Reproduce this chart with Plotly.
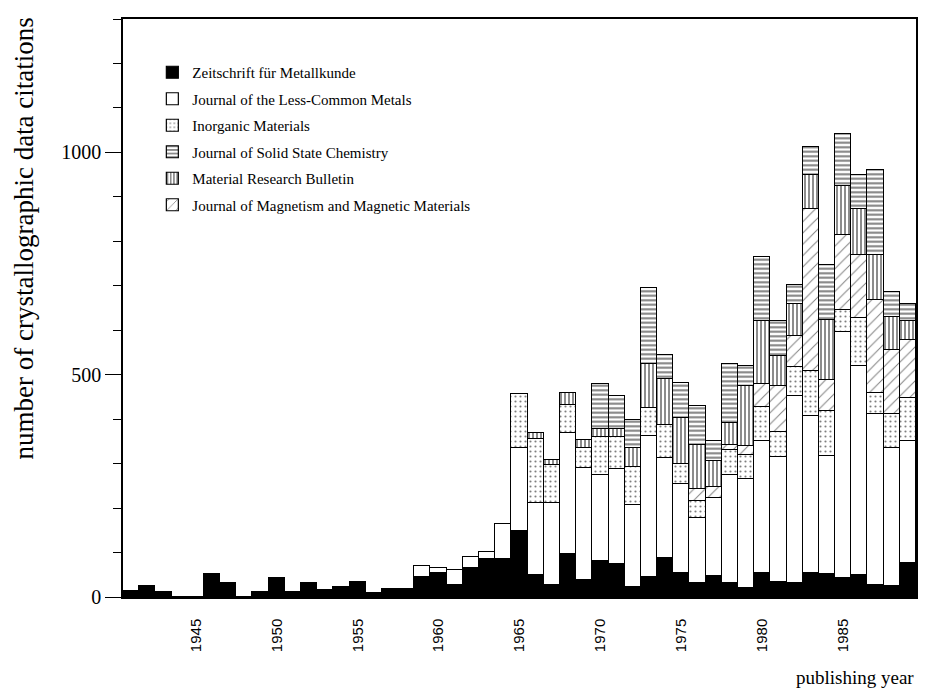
"""
Gestapelte Balken: Zitate kristallographischer Daten pro Jahr und Zeitschrift.
"""
import plotly.graph_objects as go

YEARS = list(range(1941, 1990))
TICK_YEARS = [1945, 1950, 1955, 1960, 1965, 1970, 1975, 1980, 1985]

# Zeitschrift für Metallkunde (schwarz)
ZFM = [13, 25, 11, 0, 0, 52, 32, 0, 12, 42,
       12, 32, 16, 23, 33, 9, 19, 19, 46, 53,
       26, 66, 86, 86, 148, 50, 28, 97, 39, 81,
       75, 23, 45, 87, 54, 31, 47, 32, 20, 54,
       34, 31, 54, 51, 42, 49, 27, 25, 77]
# Journal of the Less-Common Metals (weiss)
JLCM = [0, 0, 0, 0, 0, 0, 0, 0, 0, 0,
        0, 0, 0, 0, 0, 0, 0, 0, 24, 12,
        35, 25, 16, 78, 188, 162, 183, 272, 252, 193,
        212, 183, 317, 225, 200, 147, 176, 242, 245, 296,
        280, 421, 353, 267, 555, 470, 384, 311, 273]
# Inorganic Materials (punktiert)
IM = [0, 0, 0, 0, 0, 0, 0, 0, 0, 0,
      0, 0, 0, 0, 0, 0, 0, 0, 0, 0,
      0, 0, 0, 0, 121, 144, 86, 63, 45, 85,
      72, 87, 64, 75, 46, 38, 0, 56, 55, 77,
      58, 65, 101, 100, 49, 108, 48, 75, 98]
# Journal of Magnetism and Magnetic Materials (gewellt)
JMMM = [0, 0, 0, 0, 0, 0, 0, 0, 0, 0,
        0, 0, 0, 0, 0, 0, 0, 0, 0, 0,
        0, 0, 0, 0, 0, 0, 0, 0, 0, 0,
        0, 0, 0, 0, 0, 27, 24, 12, 20, 51,
        102, 69, 364, 69, 168, 142, 209, 145, 131]
# Material Research Bulletin (senkrecht schraffiert)
MRB = [0, 0, 0, 0, 0, 0, 0, 0, 0, 0,
       0, 0, 0, 0, 0, 0, 0, 0, 0, 0,
       0, 0, 0, 0, 0, 13, 12, 27, 18, 18,
       18, 43, 97, 104, 103, 99, 59, 50, 134, 142,
       67, 72, 77, 136, 111, 104, 101, 73, 42]
# Journal of Solid State Chemistry (waagerecht schraffiert)
JSSC = [0, 0, 0, 0, 0, 0, 0, 0, 0, 0,
        0, 0, 0, 0, 0, 0, 0, 0, 0, 0,
        0, 0, 0, 0, 0, 0, 0, 0, 0, 102,
        75, 61, 171, 54, 79, 88, 44, 131, 45, 145,
        80, 44, 64, 123, 116, 77, 191, 56, 37]

SERIF = "Liberation Serif"


def balken(name, values, rank, color="white", shape="", size=6, solidity=0.2):
    pattern = dict(shape=shape, fgcolor="black", bgcolor=color,
                   size=size, solidity=solidity)
    return go.Bar(
        x=YEARS, y=values, name=name,
        legendgroup=name, legendrank=rank,
        marker=dict(color=color, line=dict(color="black", width=1.2),
                    pattern=pattern),
        hoverinfo="x+y+name",
    )


def zitate_chart() -> go.Figure:
    fig = go.Figure()
    # Stapelreihenfolge von unten nach oben
    fig.add_trace(balken("Zeitschrift für Metallkunde", ZFM, 1, color="black"))
    fig.add_trace(balken("Journal of the Less-Common Metals", JLCM, 2))
    fig.add_trace(balken("Inorganic Materials", IM, 3, shape=".", size=5, solidity=0.15))
    fig.add_trace(balken("Journal of Magnetism and Magnetic Materials", JMMM, 6,
                         shape="/", size=8, solidity=0.12))
    fig.add_trace(balken("Material Research Bulletin", MRB, 5,
                         shape="|", size=4, solidity=0.45))
    fig.add_trace(balken("Journal of Solid State Chemistry", JSSC, 4,
                         shape="-", size=4.5, solidity=0.45))

    # Seite hat 8px Rand -> Figur etwas kleiner als das Fenster
    fig.update_layout(
        width=911, height=683,
        margin=dict(l=115, r=1, t=11, b=94),
        barmode="stack", bargap=0,
        plot_bgcolor="white", paper_bgcolor="white",
        font=dict(family=SERIF, color="black"),
        legend=dict(
            x=0.037, y=0.936, xanchor="left", yanchor="top",
            font=dict(family=SERIF, size=15, color="black"),
            bgcolor="rgba(0,0,0,0)", tracegroupgap=4,
        ),
    )
    fig.update_xaxes(
        range=[1940.5, 1989.5],
        tickmode="array", tickvals=TICK_YEARS,
        ticktext=[str(y) for y in TICK_YEARS],
        tickangle=-90, ticks="", ticklabelstandoff=14,
        tickfont=dict(family="Liberation Sans", size=15, color="black"),
        showline=True, mirror=True, linecolor="black", linewidth=1.5,
        showgrid=False, zeroline=False,
    )
    fig.update_yaxes(
        range=[0, 1300], tickmode="linear", tick0=0, dtick=500,
        ticks="outside", ticklen=16, tickwidth=1.3, tickcolor="black",
        minor=dict(tick0=0, dtick=100, ticks="outside", ticklen=8,
                   tickwidth=1.2, tickcolor="black", showgrid=False),
        tickfont=dict(family=SERIF, size=20, color="black"),
        showline=True, mirror=True, linecolor="black", linewidth=1.5,
        showgrid=False, zeroline=False,
    )

    # Achsentitel als Annotationen (Position wie im Original)
    fig.add_annotation(
        text="number of crystallographic data citations",
        xref="paper", yref="paper", x=-0.125, y=0.62,
        xanchor="center", yanchor="middle",
        textangle=-90, showarrow=False,
        font=dict(family=SERIF, size=27, color="black"),
    )
    fig.add_annotation(
        text="publishing year",
        xref="paper", yref="paper", x=1.0, y=-0.14,
        xanchor="right", yanchor="middle", showarrow=False,
        font=dict(family=SERIF, size=19, color="black"),
    )
    return fig


fig = zitate_chart()
fig.write_html("out.html")
